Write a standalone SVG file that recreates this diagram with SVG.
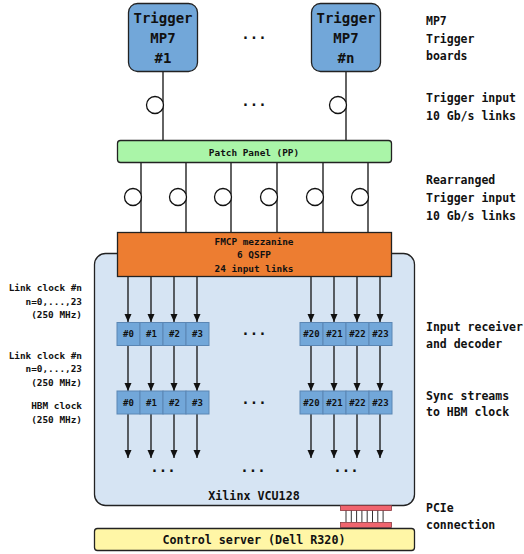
<svg xmlns="http://www.w3.org/2000/svg" width="524" height="554" viewBox="0 0 524 554">
<defs>
<style>
text{font-family:"DejaVu Sans Mono","Liberation Mono",monospace;font-weight:bold;fill:#111;dominant-baseline:central}
.c{text-anchor:middle}
.r{text-anchor:end}
.lbl{font-size:11.5px}
.sm{font-size:9.4px}
.cell{fill:#72a7d9;stroke:#5a86b4;stroke-width:1}
.ln{stroke:#111;stroke-width:1.3;fill:none}
.circ{fill:#fff;stroke:#111;stroke-width:1.3}
.dots{font-size:14px;text-anchor:middle}
</style>
<marker id="ah" viewBox="0 0 8 8" refX="8" refY="4" markerWidth="8" markerHeight="8" markerUnits="userSpaceOnUse" orient="auto">
<path d="M0,0.5 L8,4 L0,7.5 Z" fill="#111"/>
</marker>
</defs>
<rect width="524" height="554" fill="#fff"/>

<g id="vcu">
<rect x="94.5" y="253.5" width="320" height="252" rx="11" fill="#d6e4f3" stroke="#222" stroke-width="1.3"/>
<text x="254" y="496" class="c" style="font-size:11.7px">Xilinx VCU128</text>
</g>

<g id="connectors">
<path class="ln" d="M163,72V140M346,72V140"/>
<path class="ln" d="M141,163V232M186,163V232M231,163V232M277,163V232M323,163V232M368,163V232"/>
<g class="ln" marker-end="url(#ah)">
<path d="M128,277V322"/><path d="M151,277V322"/><path d="M174,277V322"/><path d="M197,277V322"/>
<path d="M311,277V322"/><path d="M334,277V322"/><path d="M357,277V322"/><path d="M380,277V322"/>
<path d="M128,345V391"/><path d="M151,345V391"/><path d="M174,345V391"/><path d="M197,345V391"/>
<path d="M311,345V391"/><path d="M334,345V391"/><path d="M357,345V391"/><path d="M380,345V391"/>
<path d="M128,413V458"/><path d="M151,413V458"/><path d="M174,413V458"/><path d="M197,413V458"/>
<path d="M311,413V458"/><path d="M334,413V458"/><path d="M357,413V458"/><path d="M380,413V458"/>
</g>
<circle class="circ" cx="155" cy="105" r="8.5"/>
<circle class="circ" cx="338" cy="105" r="8.5"/>
<circle class="circ" cx="133" cy="197" r="8.5"/>
<circle class="circ" cx="178" cy="197" r="8.5"/>
<circle class="circ" cx="223" cy="197" r="8.5"/>
<circle class="circ" cx="269" cy="197" r="8.5"/>
<circle class="circ" cx="315" cy="197" r="8.5"/>
<circle class="circ" cx="360" cy="197" r="8.5"/>
</g>

<g id="mp7-1">
<rect x="128.5" y="3.5" width="69" height="68" rx="9" fill="#72a7d9" stroke="#222" stroke-width="1.3"/>
<text x="163" y="18" class="c" style="font-size:14px">Trigger</text>
<text x="163" y="38" class="c" style="font-size:14px">MP7</text>
<text x="163" y="58" class="c" style="font-size:14px">#1</text>
</g>
<g id="mp7-n">
<rect x="311.5" y="3.5" width="69" height="68" rx="9" fill="#72a7d9" stroke="#222" stroke-width="1.3"/>
<text x="346" y="18" class="c" style="font-size:14px">Trigger</text>
<text x="346" y="38" class="c" style="font-size:14px">MP7</text>
<text x="346" y="58" class="c" style="font-size:14px">#n</text>
</g>
<text x="254" y="34" class="dots">...</text>
<text x="254" y="101" class="dots">...</text>

<g id="pp">
<rect x="117.5" y="140.5" width="274" height="22" rx="3" fill="#aaf5a8" stroke="#222" stroke-width="1.3"/>
<text x="254" y="152" class="c sm">Patch Panel (PP)</text>
</g>

<g id="fmcp">
<rect x="117.5" y="232.5" width="274" height="44" fill="#ed7d31" stroke="#222" stroke-width="1.3"/>
<text x="254" y="241" class="c sm">FMCP mezzanine</text>
<text x="254" y="254.5" class="c sm">6 QSFP</text>
<text x="254" y="268" class="c sm">24 input links</text>
</g>

<g id="receiver">
<rect class="cell" x="117" y="322.5" width="23" height="23"/>
<rect class="cell" x="140" y="322.5" width="23" height="23"/>
<rect class="cell" x="163" y="322.5" width="23" height="23"/>
<rect class="cell" x="186" y="322.5" width="23" height="23"/>
<rect class="cell" x="300" y="322.5" width="23" height="23"/>
<rect class="cell" x="323" y="322.5" width="23" height="23"/>
<rect class="cell" x="346" y="322.5" width="23" height="23"/>
<rect class="cell" x="369" y="322.5" width="23" height="23"/>
<g style="font-size:9px" class="c">
<text x="128.5" y="334" class="c" style="font-size:9px">#0</text>
<text x="151.5" y="334" class="c" style="font-size:9px">#1</text>
<text x="174.5" y="334" class="c" style="font-size:9px">#2</text>
<text x="197.5" y="334" class="c" style="font-size:9px">#3</text>
<text x="311.5" y="334" class="c" style="font-size:9px">#20</text>
<text x="334.5" y="334" class="c" style="font-size:9px">#21</text>
<text x="357.5" y="334" class="c" style="font-size:9px">#22</text>
<text x="380.5" y="334" class="c" style="font-size:9px">#23</text>
</g>
<text x="254" y="330" class="dots">...</text>
</g>

<g id="sync">
<rect class="cell" x="117" y="391" width="23" height="23"/>
<rect class="cell" x="140" y="391" width="23" height="23"/>
<rect class="cell" x="163" y="391" width="23" height="23"/>
<rect class="cell" x="186" y="391" width="23" height="23"/>
<rect class="cell" x="300" y="391" width="23" height="23"/>
<rect class="cell" x="323" y="391" width="23" height="23"/>
<rect class="cell" x="346" y="391" width="23" height="23"/>
<rect class="cell" x="369" y="391" width="23" height="23"/>
<text x="128.5" y="402.5" class="c" style="font-size:9px">#0</text>
<text x="151.5" y="402.5" class="c" style="font-size:9px">#1</text>
<text x="174.5" y="402.5" class="c" style="font-size:9px">#2</text>
<text x="197.5" y="402.5" class="c" style="font-size:9px">#3</text>
<text x="311.5" y="402.5" class="c" style="font-size:9px">#20</text>
<text x="334.5" y="402.5" class="c" style="font-size:9px">#21</text>
<text x="357.5" y="402.5" class="c" style="font-size:9px">#22</text>
<text x="380.5" y="402.5" class="c" style="font-size:9px">#23</text>
<text x="254" y="399" class="dots">...</text>
</g>
<text x="163" y="467" class="dots">...</text>
<text x="253" y="467" class="dots">...</text>
<text x="346" y="467" class="dots">...</text>

<g id="pcie">
<path d="M346,510V522M351.3,510V522M356.6,510V522M361.9,510V522M367.2,510V522M372.5,510V522M377.8,510V522M383.1,510V522" stroke="#333" stroke-width="1"/>
<rect x="340.5" y="505.5" width="51" height="5" fill="#f0646e" stroke="#8a3a40" stroke-width="0.8"/>
<rect x="340.5" y="522.5" width="51" height="5" fill="#f0646e" stroke="#8a3a40" stroke-width="0.8"/>
</g>

<g id="server">
<rect x="94.5" y="528.5" width="320" height="22" rx="3" fill="#fff6a6" stroke="#222" stroke-width="1.3"/>
<text x="254" y="540" class="c" style="font-size:11.7px">Control server (Dell R320)</text>
</g>

<g id="labels-right" class="lbl">
<text x="426" y="21" class="lbl">MP7</text>
<text x="426" y="38.5" class="lbl">Trigger</text>
<text x="426" y="56" class="lbl">boards</text>
<text x="426" y="98" class="lbl">Trigger input</text>
<text x="426" y="116" class="lbl">10 Gb/s links</text>
<text x="426" y="180" class="lbl">Rearranged</text>
<text x="426" y="198" class="lbl">Trigger input</text>
<text x="426" y="216" class="lbl">10 Gb/s links</text>
<text x="426" y="327" class="lbl">Input receiver</text>
<text x="426" y="344" class="lbl">and decoder</text>
<text x="426" y="396" class="lbl">Sync streams</text>
<text x="426" y="412" class="lbl">to HBM clock</text>
<text x="426" y="508" class="lbl">PCIe</text>
<text x="426" y="525" class="lbl">connection</text>
</g>

<g id="labels-left">
<text x="82" y="287" class="r sm">Link clock #n</text>
<text x="82" y="301" class="r sm">n=0,...,23</text>
<text x="82" y="314" class="r sm">(250 MHz)</text>
<text x="82" y="355" class="r sm">Link clock #n</text>
<text x="82" y="368.5" class="r sm">n=0,...,23</text>
<text x="82" y="382" class="r sm">(250 MHz)</text>
<text x="82" y="405" class="r sm">HBM clock</text>
<text x="82" y="419" class="r sm">(250 MHz)</text>
</g>
</svg>
